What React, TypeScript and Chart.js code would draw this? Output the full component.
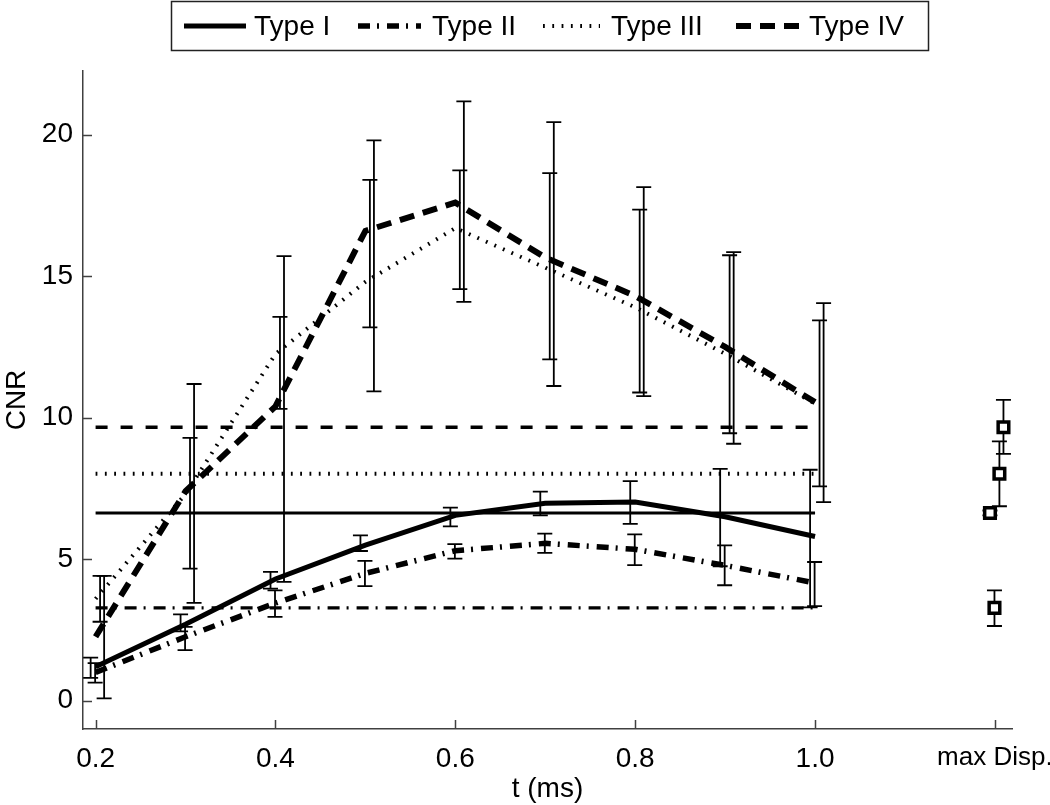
import React, { useEffect, useRef } from 'react';
import { Chart, registerables } from 'chart.js';

Chart.register(...registerables);

// ---- data ----
const tValues = [0.2, 0.3, 0.4, 0.5, 0.6, 0.7, 0.8, 0.9, 1.0];
const seriesNames = ['Type I', 'Type II', 'Type III', 'Type IV'];

const typeI = [1.2, 2.7, 4.3, 5.5, 6.55, 6.98, 7.02, 6.5, 5.8];
const typeII = [1.0, 2.26, 3.45, 4.5, 5.3, 5.56, 5.35, 4.78, 4.16];
const typeIII = [3.6, 7.3, 12.25, 14.8, 16.7, 15.3, 13.9, 12.26, 10.5];
const typeIV = [2.26, 7.4, 10.4, 16.6, 17.6, 15.66, 14.3, 12.5, 10.55];

const typeILow = [0.81, 2.45, 3.96, 5.29, 6.16, 6.55, 6.25, 4.75, 3.3];
const typeIHigh = [1.52, 3.05, 4.55, 5.84, 6.82, 7.39, 7.76, 8.19, 8.16];
const typeIILow = [0.64, 1.79, 2.96, 4.05, 5.02, 5.22, 4.79, 4.08, 3.34];
const typeIIHigh = [1.33, 2.61, 3.9, 4.94, 5.53, 5.9, 5.88, 5.49, 4.9];
const typeIIILow = [2.79, 4.67, 10.31, 13.19, 14.54, 12.06, 10.89, 9.45, 7.57];
const typeIIIHigh = [4.41, 9.29, 13.56, 18.4, 18.74, 18.64, 17.35, 15.74, 13.44];
const typeIVLow = [0.08, 3.46, 4.2, 10.93, 14.09, 11.12, 10.76, 9.08, 7.02];
const typeIVHigh = [4.41, 11.19, 15.71, 19.8, 21.18, 20.44, 18.15, 15.85, 14.05];

// max displacement values (Type I..IV) and their error ranges
const maxDisp = [6.63, 3.28, 8.02, 9.66];
const maxDispLow = [6.55, 2.64, 6.87, 8.72];
const maxDispHigh = [6.72, 3.9, 9.16, 10.63];

const xTickValues = [0.2, 0.4, 0.6, 0.8, 1.0, 1.2];
const xTickLabels = ['0.2', '0.4', '0.6', '0.8', '1.0', 'max Disp.'];
const yTickValues = [0, 5, 10, 15, 20];
const maxDispX = 1.2;

// ---- styles ----
const FONT = '"Liberation Sans", Arial, sans-serif';
const FONT_SIZE = 28;
const AXIS_COLOR = '#404040';
const seriesStyles = [
  { width: 5, dash: [] as number[], refWidth: 3, refDash: [] as number[] },
  { width: 5.5, dash: [12, 7, 2, 8], refWidth: 3.2, refDash: [12, 7, 2, 8] },
  { width: 4, dash: [1.8, 7.5], refWidth: 4, refDash: [1.8, 7.5] },
  { width: 6, dash: [15, 9], refWidth: 3.5, refDash: [12, 13] },
];
const errOffsets = [-0.0055, -0.0005, 0.005, 0.0095];
// legend layout: sample start, sample length, text start
const legendLayout = [
  { sx: 184, len: 62, tx: 254 },
  { sx: 358, len: 63, tx: 432 },
  { sx: 543, len: 57, tx: 611 },
  { sx: 736, len: 63, tx: 809 },
];
const legendBox = { left: 171.5, top: 1.5, right: 928.5, bottom: 50.5 };

const means = [typeI, typeII, typeIII, typeIV];
const lows = [typeILow, typeIILow, typeIIILow, typeIVLow];
const highs = [typeIHigh, typeIIHigh, typeIIIHigh, typeIVHigh];

const errorBarPlugin = {
  id: 'errorBars',
  beforeDatasetsDraw(chart: any) {
    const { ctx, scales } = chart;
    const x = scales.x;
    const y = scales.y;
    ctx.save();
    ctx.strokeStyle = '#000';
    ctx.lineWidth = 1.8;
    ctx.setLineDash([]);
    const cap = 7.5;
    const drawBar = (xv: number, lo: number, hi: number) => {
      const px = x.getPixelForValue(xv);
      const pl = y.getPixelForValue(lo);
      const ph = y.getPixelForValue(hi);
      ctx.beginPath();
      ctx.moveTo(px, pl);
      ctx.lineTo(px, ph);
      ctx.moveTo(px - cap, pl);
      ctx.lineTo(px + cap, pl);
      ctx.moveTo(px - cap, ph);
      ctx.lineTo(px + cap, ph);
      ctx.stroke();
    };
    lows.forEach((lo, i) =>
      tValues.forEach((t, j) => drawBar(t + errOffsets[i], lo[j], highs[i][j]))
    );
    maxDisp.forEach((_, i) => drawBar(maxDispX + errOffsets[i], maxDispLow[i], maxDispHigh[i]));
    ctx.restore();
  },
};

const inTicksPlugin = {
  id: 'inTicks',
  afterDraw(chart: any) {
    const { ctx, chartArea: a, scales } = chart;
    ctx.save();
    ctx.strokeStyle = AXIS_COLOR;
    ctx.lineWidth = 1.5;
    ctx.setLineDash([]);
    ctx.beginPath();
    xTickValues.forEach((v) => {
      const px = Math.round(scales.x.getPixelForValue(v)) + 0.5;
      ctx.moveTo(px, a.bottom);
      ctx.lineTo(px, a.bottom - 9);
    });
    yTickValues.forEach((v) => {
      const py = Math.round(scales.y.getPixelForValue(v)) + 0.5;
      ctx.moveTo(a.left, py);
      ctx.lineTo(a.left + 9, py);
    });
    ctx.stroke();
    ctx.restore();
  },
};

const legendPlugin = {
  id: 'boxLegend',
  afterDraw(chart: any) {
    const ctx = chart.ctx;
    ctx.save();
    ctx.font = `${FONT_SIZE}px ${FONT}`;
    ctx.textBaseline = 'middle';
    ctx.fillStyle = '#000';
    const midY = 26;
    seriesNames.forEach((name, i) => {
      const st = seriesStyles[i];
      const L = legendLayout[i];
      ctx.strokeStyle = '#000';
      ctx.lineWidth = st.width;
      ctx.setLineDash(st.dash);
      ctx.lineCap = 'butt';
      ctx.beginPath();
      ctx.moveTo(L.sx, midY);
      ctx.lineTo(L.sx + L.len, midY);
      ctx.stroke();
      ctx.setLineDash([]);
      ctx.fillText(name, L.tx, midY + 1);
    });
    ctx.lineWidth = 1.5;
    ctx.strokeStyle = '#222';
    ctx.strokeRect(
      legendBox.left,
      legendBox.top,
      legendBox.right - legendBox.left,
      legendBox.bottom - legendBox.top
    );
    ctx.restore();
  },
};

export default function App() {
  const canvasRef = useRef<HTMLCanvasElement | null>(null);

  useEffect(() => {
    const canvas = canvasRef.current;
    if (!canvas) return;
    Chart.defaults.font.family = FONT;
    Chart.defaults.color = '#000';

    const datasets: any[] = [];
    means.forEach((m, i) => {
      datasets.push({
        type: 'line',
        label: seriesNames[i],
        data: tValues.map((t, j) => ({ x: t, y: m[j] })),
        borderColor: '#000',
        borderWidth: seriesStyles[i].width,
        borderDash: seriesStyles[i].dash,
        borderCapStyle: 'butt',
        borderJoinStyle: 'miter',
        pointRadius: 0,
        fill: false,
        tension: 0,
      });
    });
    maxDisp.forEach((v, i) => {
      datasets.push({
        type: 'line',
        label: seriesNames[i] + ' (max Disp.)',
        data: [
          { x: tValues[0], y: v },
          { x: tValues[tValues.length - 1], y: v },
        ],
        borderColor: '#000',
        borderWidth: seriesStyles[i].refWidth,
        borderDash: seriesStyles[i].refDash,
        borderCapStyle: 'butt',
        pointRadius: 0,
        fill: false,
      });
    });
    datasets.unshift({
      type: 'scatter',
      label: 'max Disp.',
      data: maxDisp.map((v, i) => ({ x: maxDispX + errOffsets[i], y: v })),
      pointStyle: 'rect',
      pointRadius: 7.5,
      pointBorderWidth: 3.5,
      pointBackgroundColor: '#fff',
      pointBorderColor: '#000',
      showLine: false,
    });

    const chart = new Chart(canvas, {
      type: 'line',
      data: { datasets },
      plugins: [errorBarPlugin, inTicksPlugin, legendPlugin],
      options: {
        animation: false,
        responsive: false,
        maintainAspectRatio: false,
        devicePixelRatio: 1,
        layout: { padding: { top: 71, right: 38, left: 0, bottom: 0 } },
        plugins: {
          legend: { display: false },
          tooltip: { enabled: false },
        },
        scales: {
          x: {
            type: 'linear',
            min: 0.186,
            max: 1.219,
            grid: { display: false, drawTicks: false },
            border: { display: true, color: AXIS_COLOR, width: 1.5 },
            afterBuildTicks: (s: any) => {
              s.ticks = xTickValues.map((v) => ({ value: v }));
            },
            afterFit: (s: any) => {
              s.height = 76;
              s.paddingLeft = 0;
              s.paddingRight = 0;
            },
            ticks: {
              autoSkip: false,
              maxRotation: 0,
              padding: 13,
              font: (c: any) => ({ size: c.index === xTickLabels.length - 1 ? 26 : FONT_SIZE }),
              color: '#000',
              callback: (_v: any, idx: number) => xTickLabels[idx],
            },
            title: {
              display: true,
              text: 't (ms)',
              font: { size: FONT_SIZE },
              color: '#000',
              padding: { top: 0, bottom: -1 },
            },
          },
          y: {
            type: 'linear',
            min: -1,
            max: 22.25,
            grid: { display: false, drawTicks: false },
            border: { display: true, color: AXIS_COLOR, width: 1.5 },
            afterBuildTicks: (s: any) => {
              s.ticks = yTickValues.map((v) => ({ value: v }));
            },
            afterFit: (s: any) => {
              s.width = 83;
              s.paddingTop = 0;
              s.paddingBottom = 0;
            },
            ticks: {
              padding: 10,
              font: { size: FONT_SIZE },
              color: '#000',
              callback: (v: any) => String(v),
            },
            title: {
              display: true,
              text: 'CNR',
              font: { size: FONT_SIZE },
              color: '#000',
              padding: { top: 0, bottom: 0 },
            },
          },
        },
      },
    } as any);

    return () => chart.destroy();
  }, []);

  return (
    <div style={{ position: 'absolute', left: 0, top: 0, width: 1050, height: 805, background: '#fff' }}>
      <canvas ref={canvasRef} width={1050} height={805} style={{ width: 1050, height: 805, display: 'block' }} />
    </div>
  );
}
